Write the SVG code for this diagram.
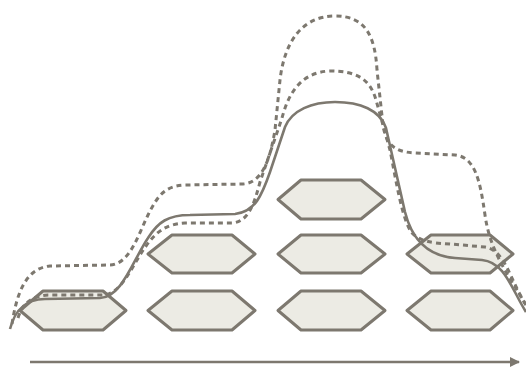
<svg xmlns="http://www.w3.org/2000/svg" width="526" height="368" viewBox="0 0 526 368">
<defs>
<style>
.hex{fill:#ecebe4;stroke:#7d786f;stroke-width:3;stroke-linejoin:round}
.crv{fill:none;stroke:#7d786f;stroke-width:2.6;stroke-linecap:butt}
.dsh{stroke-width:3;stroke-dasharray:5 4}
</style>
<marker id="ah" viewBox="0 0 10 10" refX="9" refY="5" markerWidth="10" markerHeight="10" markerUnits="userSpaceOnUse" orient="auto">
<path d="M0,0 L10,5 L0,10 Z" fill="#7d786f"/>
</marker>
</defs>
<rect width="526" height="368" fill="#ffffff"/>
<g id="n1"><polygon class="hex" points="20,310.5 43,291 103,291 126,310.5 103,330 43,330"/></g>
<g id="n2"><polygon class="hex" points="148,310.5 172,291 232,291 255,310.5 232,330 172,330"/></g>
<g id="n3"><polygon class="hex" points="278,310.5 301,291 361,291 385,310.5 361,330 301,330"/></g>
<g id="n4"><polygon class="hex" points="407,310.5 431,291 490,291 513,310.5 490,330 431,330"/></g>
<g id="n5"><polygon class="hex" points="148,254 172,235 232,235 255,254 232,273 172,273"/></g>
<g id="n6"><polygon class="hex" points="278,254 301,235 361,235 385,254 361,273 301,273"/></g>
<g id="n7"><polygon class="hex" points="407,254 431,235 490,235 513,254 490,273 431,273"/></g>
<g id="n8"><polygon class="hex" points="278,199.5 301,180 361,180 385,199.5 361,219 301,219"/></g>
<g id="connectors">
<path class="crv dsh" d="M 12,324 C 16,298 24,268 50,266 L 110,265 C 130,264 138,235 148,215 C 158,195 165,186 185,185 L 243,184 C 262,183 270,160 275,130 L 280,80 C 284,45 300,16 335,16 C 365,16 375,35 377,70 L 383,125 C 386,145 395,152 415,153 L 455,155 C 475,157 480,180 485,215 C 490,250 505,270 526,305"/>
<path class="crv dsh" d="M 18,318 C 22,305 30,296 48,295 L 102,295 C 122,295 132,265 146,246 C 156,232 166,224 185,223 L 232,223 C 248,222 254,205 260,182 L 282,118 C 288,95 300,72 330,71 C 355,71 370,78 376,100 L 390,150 C 396,180 402,220 412,233 C 420,241 430,243 450,244 L 485,247 C 505,250 510,280 526,305"/>
<path class="crv" d="M 10,329 C 15,310 25,299 45,299 L 100,298 C 122,297 132,262 148,238 C 158,222 168,215 190,215 L 235,214 C 255,212 262,195 270,172 L 285,127 C 292,110 312,102 335,102 C 360,102 380,110 386,128 L 405,212 C 412,240 428,256 455,258 L 482,260 C 505,262 512,290 526,312"/>
<line class="crv" x1="30" y1="362" x2="519" y2="362" marker-end="url(#ah)"/>
</g>
</svg>
